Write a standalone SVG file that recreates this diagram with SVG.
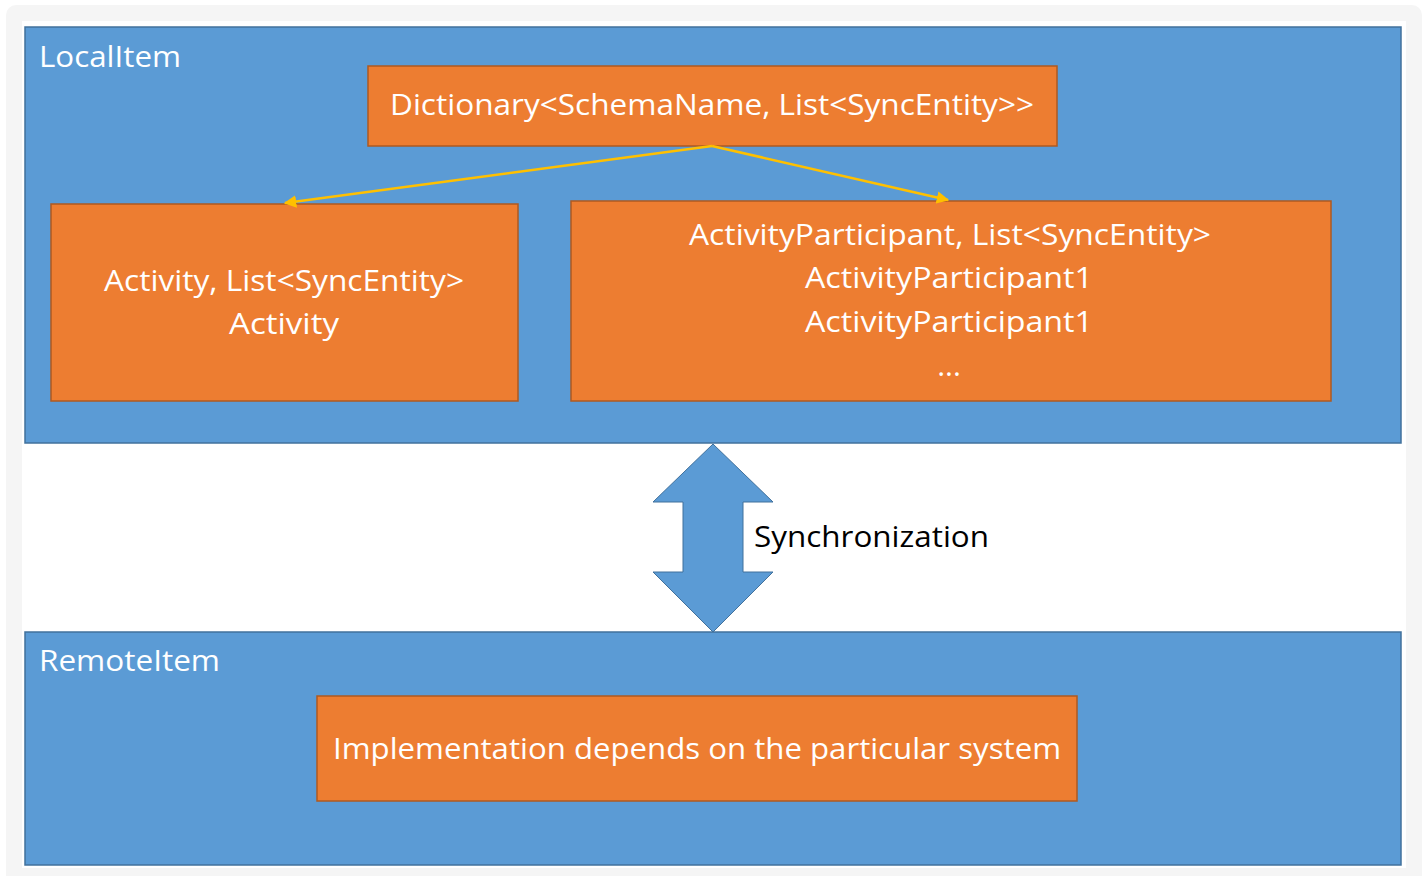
<svg xmlns="http://www.w3.org/2000/svg" width="1426" height="876" viewBox="0 0 1426 876">
<defs>
<style>
.frame{fill:#f5f5f5}
.blue{fill:#5b9bd5;stroke:#41719c;stroke-width:1.5}
.box{fill:#ed7d31;stroke:#ae5a21;stroke-width:1.5}
.t{font-family:"Open Sans","Noto Sans",sans-serif;font-size:30px;fill:#ffffff}
.tc{text-anchor:middle}
.conn{stroke:#ffc000;stroke-width:2.5;fill:none}
</style>
<marker id="ah" viewBox="0 0 10 10" refX="9" refY="5" markerWidth="5" markerHeight="5" orient="auto" markerUnits="strokeWidth">
<path d="M0,0 L10,5 L0,10 z" fill="#ffc000"/>
</marker>
</defs>
<rect x="0" y="0" width="1426" height="876" fill="#ffffff"/>
<rect class="frame" x="6" y="5" width="1416" height="890" rx="10"/>
<rect x="22" y="21" width="1384" height="847" fill="#ffffff"/>
<g id="localitem">
<rect class="blue" x="25" y="27" width="1376" height="416"/>
<text class="t" x="39" y="67" textLength="142" lengthAdjust="spacingAndGlyphs">LocalItem</text>
</g>
<g id="remoteitem">
<rect class="blue" x="25" y="632" width="1376" height="233"/>
<text class="t" x="39" y="671" textLength="181" lengthAdjust="spacingAndGlyphs">RemoteItem</text>
</g>
<g id="dictionary">
<rect class="box" x="368" y="66" width="689" height="80"/>
<text class="t tc" x="712" y="115" textLength="644" lengthAdjust="spacingAndGlyphs">Dictionary&lt;SchemaName, List&lt;SyncEntity&gt;&gt;</text>
</g>
<g id="activity">
<rect class="box" x="51" y="204" width="467" height="197"/>
<text class="t tc" x="284" y="291" textLength="360" lengthAdjust="spacingAndGlyphs">Activity, List&lt;SyncEntity&gt;</text>
<text class="t tc" x="284" y="334" textLength="110" lengthAdjust="spacingAndGlyphs">Activity</text>
</g>
<g id="participant">
<rect class="box" x="571" y="201" width="760" height="200"/>
<text class="t tc" x="950" y="245" textLength="522" lengthAdjust="spacingAndGlyphs">ActivityParticipant, List&lt;SyncEntity&gt;</text>
<text class="t tc" x="949" y="288" textLength="288" lengthAdjust="spacingAndGlyphs">ActivityParticipant1</text>
<text class="t tc" x="949" y="332" textLength="288" lengthAdjust="spacingAndGlyphs">ActivityParticipant1</text>
<text class="t tc" x="949" y="376">...</text>
</g>
<g id="implementation">
<rect class="box" x="317" y="696" width="760" height="105"/>
<text class="t tc" x="697" y="759" textLength="728" lengthAdjust="spacingAndGlyphs">Implementation depends on the particular system</text>
</g>
<g id="sync">
<polygon points="713,444 773,502 743,502 743,572 773,572 713,632 653,572 683,572 683,502 653,502" fill="#5b9bd5" stroke="#41719c" stroke-width="1"/>
<text x="754" y="547" font-family="'Open Sans','Noto Sans',sans-serif" font-size="30" fill="#000000" textLength="235" lengthAdjust="spacingAndGlyphs">Synchronization</text>
</g>
<g id="connectors">
<line class="conn" x1="712" y1="146" x2="285" y2="203" marker-end="url(#ah)"/>
<line class="conn" x1="712" y1="146" x2="948" y2="200" marker-end="url(#ah)"/>
</g>
</svg>
